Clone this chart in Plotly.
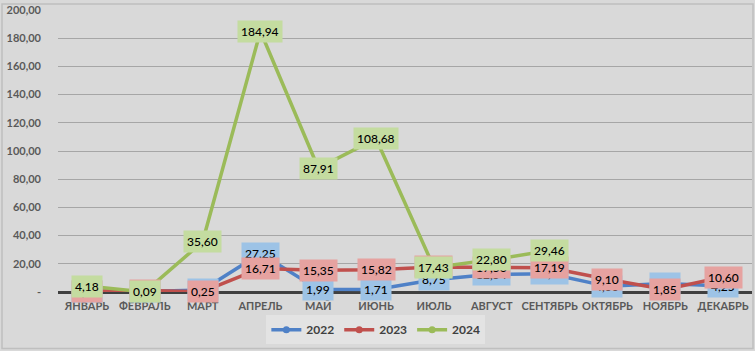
import plotly.graph_objects as go

months = ["ЯНВАРЬ", "ФЕВРАЛЬ", "МАРТ", "АПРЕЛЬ", "МАЙ", "ИЮНЬ", "ИЮЛЬ",
          "АВГУСТ", "СЕНТЯБРЬ", "ОКТЯБРЬ", "НОЯБРЬ", "ДЕКАБРЬ"]
v2022 = [0.30, 0.30, 1.50, 27.25, 1.99, 1.71, 8.75, 12.54, 12.90, 4.00, 6.04, 4.25]
v2023 = [0.50, 1.00, 0.25, 16.71, 15.35, 15.82, 17.80, 17.56, 17.19, 9.10, 1.85, 10.60]
v2024 = [4.18, 0.09, 35.60, 184.94, 87.91, 108.68, 17.43, 22.80, 29.46, None, None, None]
years = ["2022", "2023", "2024"]
y_ticks = [0, 20, 40, 60, 80, 100, 120, 140, 160, 180, 200]

series = [v2022, v2023, v2024]
line_colors = ["#4f81c7", "#c0504d", "#9bbb59"]
label_bg = ["#9dc3e6", "#e6a2a0", "#c4dca0"]
FONT = "Lato, 'Liberation Sans', sans-serif"

def fmt(v):
    return f"{v:,.2f}".replace(",", " ").replace(".", ",")

fig = go.Figure()
for name, vals, col in zip(years, series, line_colors):
    fig.add_trace(go.Scatter(
        x=months, y=vals, mode="lines+markers", name=name,
        line=dict(color=col, width=3.5),
        marker=dict(size=19, color=col),
        showlegend=False, cliponaxis=False,
    ))
for name, col in zip(years, line_colors):
    fig.add_trace(go.Scatter(
        x=[None], y=[None], mode="lines+markers", name=name,
        line=dict(color=col, width=3.5), marker=dict(size=7, color=col),
    ))

annotations = []
for vals, bg in zip(series, label_bg):
    for m, v in zip(months, vals):
        if v is None:
            continue
        annotations.append(dict(
            x=m, y=v, xref="x", yref="y", text=fmt(v), showarrow=False,
            bgcolor=bg, borderpad=3,
            font=dict(family=FONT, size=12, color="#000000", weight=500),
        ))

fig.update_layout(
    width=755, height=351,
    margin=dict(l=58, r=3, t=8, b=59),
    paper_bgcolor="#d9d9d9", plot_bgcolor="#d9d9d9",
    font=dict(family=FONT, size=11, color="#595959"),
    annotations=annotations,
    legend=dict(
        orientation="h", x=0.458, xanchor="center", y=-0.134, yanchor="middle",
        bgcolor="#e3e3e3", font=dict(family=FONT, size=12, color="#404040",
                                      weight="bold"),
        itemwidth=30, tracegroupgap=0,
    ),
    shapes=[dict(type="rect", xref="paper", yref="paper",
                 x0=-56/694, x1=1.0 + 1/694, y0=-57/284, y1=1 + 6/284,
                 line=dict(color="#bfbfbf", width=1.5), fillcolor="rgba(0,0,0,0)")],
)
fig.update_xaxes(
    type="category", range=[-0.5, 11.5], showgrid=False,
    showline=False, zeroline=False, ticks="", ticklabelstandoff=6,
    tickfont=dict(family=FONT, size=11, color="#595959", weight="bold"),
)
fig.update_yaxes(
    range=[0, 200], tickvals=y_ticks,
    ticktext=["-"] + [fmt(t) for t in y_ticks[1:]],
    showgrid=True, gridcolor="#a6a6a6", gridwidth=1,
    zeroline=True, zerolinecolor="#404040", zerolinewidth=3,
    showline=False, ticks="", ticklabelstandoff=16,
    tickfont=dict(family=FONT, size=11, color="#595959", weight="bold"),
)
fig.write_html("out.html")
